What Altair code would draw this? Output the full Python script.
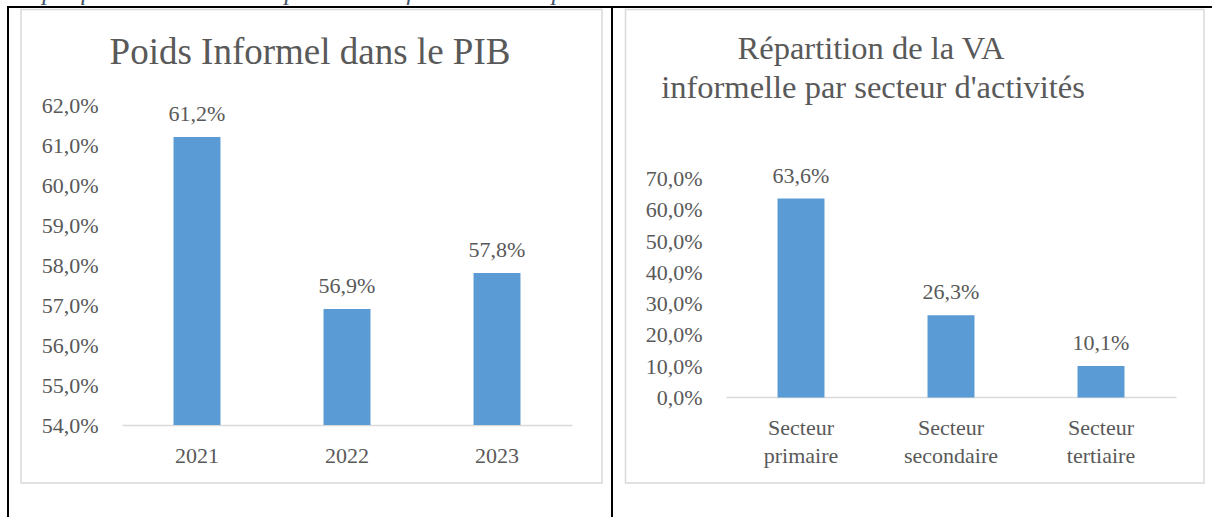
import altair as alt
import pandas as pd

# ---- data ----
annees = ["2021", "2022", "2023"]
poids_informel = [61.2, 56.9, 57.8]
ticks_gauche = [54, 55, 56, 57, 58, 59, 60, 61, 62]

secteurs = ["Secteur primaire", "Secteur secondaire", "Secteur tertiaire"]
va_informelle = [63.6, 26.3, 10.1]
ticks_droite = [0, 10, 20, 30, 40, 50, 60, 70]

FONT = "Liberation Serif"
GREY = "#595959"
BAR = "#5B9BD5"
LINE = "#D9D9D9"
PCT = "replace(format(datum.value, '.1f'), '.', ',') + '%'"

df_l = pd.DataFrame({"annee": annees, "val": poids_informel})
df_r = pd.DataFrame({"secteur": secteurs, "val": va_informelle})
one = pd.DataFrame({"a": [0]})

# ---- left panel ----
xl = alt.X("annee:N", sort=annees,
           scale=alt.Scale(range=[122, 572], paddingInner=0.687, paddingOuter=0.3435),
           axis=alt.Axis(orient="bottom", title=None, labelAngle=0, ticks=False, tickSize=0,
                         domainColor=LINE, domainWidth=1.5, labelPadding=20,
                         labelFont=FONT, labelFontSize=22, labelColor=GREY, offset=-92))
yl = alt.Y("val:Q",
           scale=alt.Scale(domain=[54, 62], range=[425, 105], zero=False, nice=False),
           axis=alt.Axis(orient="left", title=None, values=ticks_gauche, domain=False, ticks=False,
                         tickSize=0, grid=False, labelPadding=24, labelFont=FONT, labelFontSize=22,
                         labelColor=GREY, labelExpr=PCT, offset=-122))
base_l = alt.Chart(df_l).encode(x=xl, y=yl)
bars_l = base_l.mark_bar(color=BAR).encode(y2=alt.datum(54))
text_l = base_l.mark_text(font=FONT, fontSize=22, color=GREY, baseline="alphabetic", dy=-16).transform_calculate(
    lab="replace(format(datum.val, '.1f'), '.', ',') + '%'").encode(text="lab:N")
left = alt.layer(bars_l, text_l)

# ---- right panel ----
xr = alt.X("secteur:N", sort=secteurs,
           scale=alt.Scale(range=[726, 1176], paddingInner=0.687, paddingOuter=0.3435),
           axis=alt.Axis(orient="bottom", title=None, labelAngle=0, ticks=False, tickSize=0,
                         domainColor=LINE, domainWidth=1.5, labelPadding=20,
                         labelFont=FONT, labelFontSize=22, labelColor=GREY, labelLineHeight=28,
                         labelExpr="split(datum.label, ' ')", offset=-120))
yr = alt.Y("val:Q",
           scale=alt.Scale(domain=[0, 70], range=[397.5, 178.5], nice=False),
           axis=alt.Axis(orient="left", title=None, values=ticks_droite, domain=False, ticks=False,
                         tickSize=0, grid=False, labelPadding=24, labelFont=FONT, labelFontSize=22,
                         labelColor=GREY, labelExpr=PCT, offset=-726))
base_r = alt.Chart(df_r).encode(x=xr, y=yr)
bars_r = base_r.mark_bar(color=BAR)
text_r = base_r.mark_text(font=FONT, fontSize=22, color=GREY, baseline="alphabetic", dy=-16).transform_calculate(
    lab="replace(format(datum.val, '.1f'), '.', ',') + '%'").encode(text="lab:N")
right = alt.layer(bars_r, text_r)

# ---- decorations: table borders, chart frames, titles ----
def rule(x, x2, y, y2, color="black", w=2):
    return alt.Chart(one).mark_rule(color=color, strokeWidth=w).encode(
        x=alt.value(x), x2=alt.value(x2), y=alt.value(y), y2=alt.value(y2))

def frame(x, x2, y, y2):
    return alt.Chart(one).mark_rect(fill="white", fillOpacity=0, stroke=LINE, strokeWidth=1.5).encode(
        x=alt.value(x), x2=alt.value(x2), y=alt.value(y), y2=alt.value(y2))

def label(txt, x, y, size, **kw):
    return alt.Chart(one).mark_text(font=FONT, fontSize=size, color=GREY, baseline="alphabetic",
                                    align="center", **kw).encode(
        x=alt.value(x), y=alt.value(y), text=alt.value(txt))

caption = alt.Chart(one).mark_text(font=FONT, fontSize=25, fontStyle="italic", color="#44546A",
                                   baseline="alphabetic", align="left").encode(
    x=alt.value(2), y=alt.value(0),
    text=alt.value("Graphique 8 : Evolution du poids de l'informel et sa répartition"))

decor = alt.layer(
    frame(21, 602, 9.5, 483),
    frame(625.5, 1204, 9.5, 483),
    rule(7, 1212, 7, 7),
    rule(8, 8, 7, 517),
    rule(612, 612, 7, 517),
    label("Poids Informel dans le PIB", 310, 64, 37),
    label("Répartition de la VA", 871, 58.5, 32.5),
    label("informelle par secteur d'activités", 873, 97.5, 32.5),
    caption,
)

chart = alt.layer(decor, left, right).resolve_scale(
    x="independent", y="independent").resolve_axis(x="independent", y="independent").properties(
    width=1212, height=517, padding=0, autosize=alt.AutoSizeParams(type="none"),
    background="white").configure_view(stroke=None)

chart.save("out.html", embed_options={"renderer": "svg", "actions": False})
